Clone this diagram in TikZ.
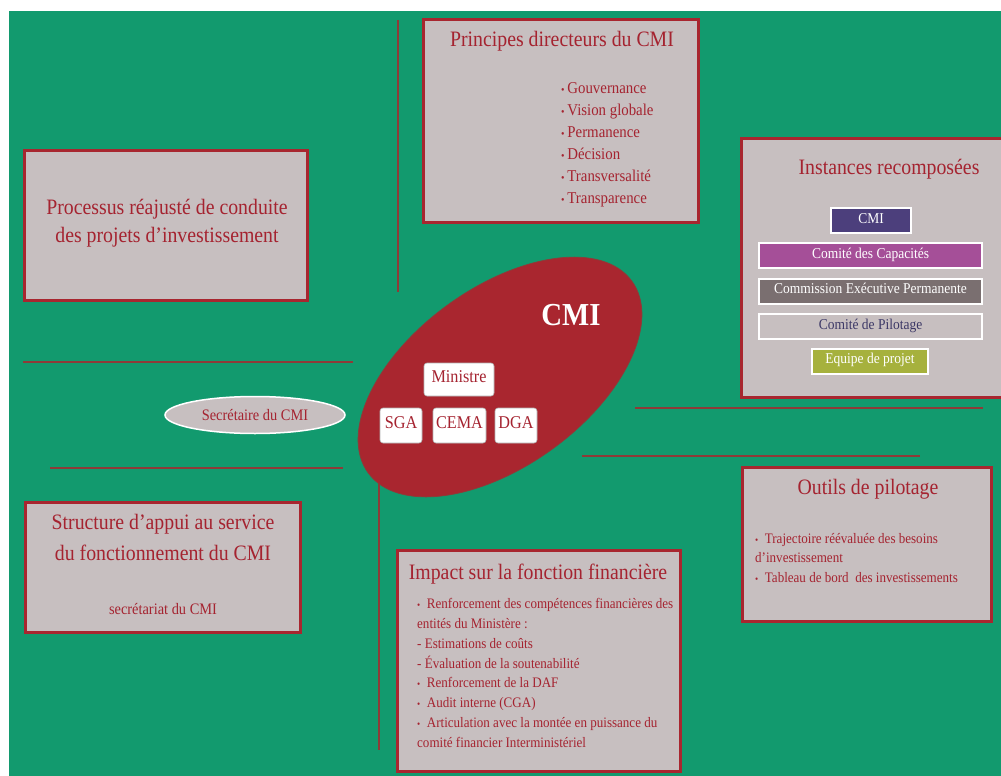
\documentclass[tikz,border=0pt]{standalone}
\usepackage{fontspec}
\setmainfont{Liberation Serif}[FakeStretch=0.9]
\usetikzlibrary{shapes.geometric,fit}
\definecolor{bggreen}{HTML}{129A6E}
\definecolor{boxgray}{HTML}{C7BFC0}
\definecolor{boxred}{HTML}{A8262F}
\definecolor{txtred}{HTML}{A52330}
\definecolor{linered}{HTML}{8E3B38}
\definecolor{cmifill}{HTML}{A9262F}
\definecolor{cmiblue}{HTML}{4C3F7C}
\definecolor{capmag}{HTML}{A54F98}
\definecolor{cepgray}{HTML}{7A6F70}
\definecolor{pilotnavy}{HTML}{3C3866}
\definecolor{olive}{HTML}{A6B13D}
\tikzset{
  panel/.style={draw=boxred, line width=3pt, fill=boxgray, inner sep=0pt},
  sepline/.style={draw=linered, line width=2.6pt},
  ttl/.style={text=txtred, inner sep=0pt, text height=0.7em, text depth=0.2em, font=\fontsize{22}{30}\selectfont},
  bodytxt/.style={text=txtred, inner sep=0pt, anchor=base west, font=\fontsize{14.5}{20}\selectfont},
  bullettxt/.style={text=txtred, inner sep=0pt, anchor=base west, font=\fontsize{16.5}{22}\selectfont},
  instbox/.style={draw=white, line width=2pt, inner sep=0pt, text height=0.7em, text depth=0.2em, font=\fontsize{15}{18}\selectfont},
  whitebox/.style={draw=gray!60, fill=white, rounded corners=3pt, line width=0.6pt, inner sep=0pt, text=txtred, text height=0.7em, text depth=0.2em, font=\fontsize{18}{20}\selectfont},
}
\begin{document}
\begin{tikzpicture}[x=1pt,y=-1pt]
\useasboundingbox (0,0) rectangle (1001,776);
\fill[bggreen] (9,11) rectangle (1001,776);

% separator lines
\draw[sepline] (398,20) -- (398,292);
\draw[sepline] (379,478) -- (379,750);
\draw[sepline] (23,362) -- (353,362);
\draw[sepline] (50,468) -- (343,468);
\draw[sepline] (635,408) -- (983,408);
\draw[sepline] (582,456) -- (920,456);

% panels
\node[panel, fit={(423,20) (698,222)}] (princ) {};
\node[panel, fit={(741,138) (1012,397)}] (inst) {};
\node[panel, fit={(24,150) (307,300)}] (proc) {};
\node[panel, fit={(25,502) (300,632)}] (struct) {};
\node[panel, fit={(397,550) (680,771)}] (impact) {};
\node[panel, fit={(742,467) (991,621)}] (outils) {};

% Principes
\node[ttl] (princT) at (562,44) {Principes directeurs du CMI};
\foreach \t [count=\i] in {Gouvernance,Vision globale,Permanence,Décision,Transversalité,Transparence}
  \node[bullettxt] (pr\i) at (561,{93+22*(\i-1)}) {{\fontsize{11}{11}\selectfont•}\,\t};

% Instances
\node[ttl] (instT) at (889,172) {Instances recomposées};
\node[instbox, fill=cmiblue, text=white, minimum width=80pt, minimum height=25pt] (iCMI) at (871,220.5) {CMI};
\node[instbox, fill=capmag, text=white, minimum width=223pt, minimum height=25pt] (iCap) at (870.5,255.5) {Comité des Capacités};
\node[instbox, fill=cepgray, text=white, minimum width=223pt, minimum height=25pt] (iCEP) at (870.5,291) {Commission Exécutive Permanente};
\node[instbox, fill=boxgray, text=pilotnavy, minimum width=223pt, minimum height=25pt] (iPil) at (870.5,326.5) {Comité de Pilotage};
\node[instbox, fill=olive, text=white, minimum width=116pt, minimum height=25pt] (iEq) at (870,361) {Equipe de projet};

% Processus
\node[ttl] (procT1) at (167,212) {Processus réajusté de conduite};
\node[ttl] (procT2) at (167,240) {des projets d’investissement};

% Structure
\node[ttl] (strT1) at (163,527) {Structure d’appui au service};
\node[ttl] (strT2) at (163,558) {du fonctionnement du CMI};
\node[text=txtred, inner sep=0pt, text height=0.7em, text depth=0.2em, font=\fontsize{16}{18}\selectfont] (strS) at (163,612) {secrétariat du CMI};

% Impact
\node[ttl] (impT) at (538,577) {Impact sur la fonction financière};
\node[bodytxt] (im1) at (417,608) {{\fontsize{10}{10}\selectfont•}\ \ Renforcement des compétences financières des};
\node[bodytxt] (im2) at (417,628) {entités du Ministère :};
\node[bodytxt] (im3) at (417,648) {- Estimations de coûts};
\node[bodytxt] (im4) at (417,668) {- Évaluation de la soutenabilité};
\node[bodytxt] (im5) at (417,687) {{\fontsize{10}{10}\selectfont•}\ \ Renforcement de la DAF};
\node[bodytxt] (im6) at (417,707) {{\fontsize{10}{10}\selectfont•}\ \ Audit interne (CGA)};
\node[bodytxt] (im7) at (417,727) {{\fontsize{10}{10}\selectfont•}\ \ Articulation avec la montée en puissance du};
\node[bodytxt] (im8) at (417,747) {comité financier Interministériel};

% Outils
\node[ttl] (outT) at (868,492) {Outils de pilotage};
\node[bodytxt] (ou1) at (755,543) {{\fontsize{10}{10}\selectfont•}\ \ Trajectoire réévaluée des besoins};
\node[bodytxt] (ou2) at (755,562) {d’investissement};
\node[bodytxt] (ou3) at (755,582) {{\fontsize{10}{10}\selectfont•}\ \ Tableau de bord\ \ des investissements};

% CMI ellipse
\node[ellipse, fill=cmifill, draw=linered, line width=0.8pt, minimum width=326pt, minimum height=178pt, rotate=36, inner sep=0pt] (cmi) at (500,377) {};
\node[text=white, inner sep=0pt, font=\bfseries\fontsize{32}{34}\selectfont, text height=0.7em, text depth=0.2em] (cmiT) at (571,323) {CMI};
\node[whitebox, minimum width=70pt, minimum height=33pt] (min) at (459,379.5) {Ministre};
\node[whitebox, minimum width=42pt, minimum height=35pt] (sga) at (401,425.5) {SGA};
\node[whitebox, minimum width=53pt, minimum height=35pt] (cema) at (459.5,425.5) {CEMA};
\node[whitebox, minimum width=42pt, minimum height=35pt] (dga) at (516,425.5) {DGA};

% Secretaire
\node[ellipse, fill=boxgray, draw=white, line width=1.5pt, minimum width=180pt, minimum height=37pt, inner sep=0pt, text=txtred, font=\fontsize{16}{18}\selectfont] (sec) at (255,415) {Secrétaire du CMI};
\end{tikzpicture}
\end{document}
